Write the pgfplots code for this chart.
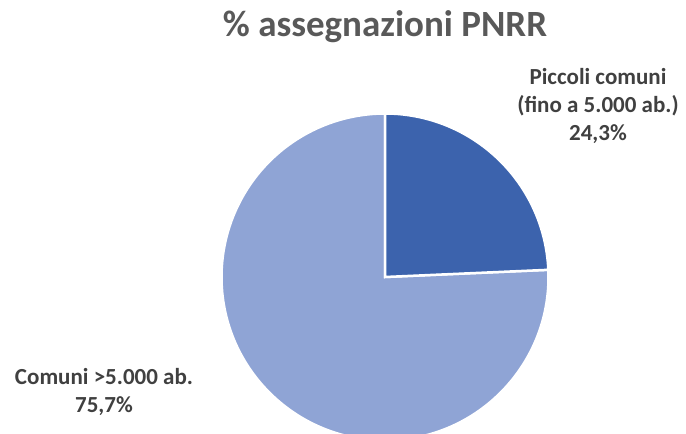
\documentclass[border=0pt]{standalone}
\usepackage{fontspec}
\setmainfont{Carlito}
\usepackage{pgfplots}
\usepackage{pgfplotstable}
\pgfplotsset{compat=1.18}
\definecolor{darkslice}{HTML}{3C63AD}
\definecolor{lightslice}{HTML}{8FA4D5}
\definecolor{titlegray}{HTML}{595959}
\definecolor{labelgray}{HTML}{404040}
\pgfplotstableread{
label value
piccoli 24.3
grandi 75.7
}\piedata
\pgfplotstablegetelem{0}{value}\of\piedata
\pgfmathsetmacro{\angA}{90-3.6*\pgfplotsretval}
\begin{document}
\begin{tikzpicture}
\begin{axis}[width=686pt,height=434pt,scale only axis,
  xmin=0,xmax=686,ymin=0,ymax=434,hide axis,clip=true]
\fill[lightslice,draw=white,line width=2.5pt] (axis cs:385,157) -- ++(\angA:163.5pt) arc[start angle=\angA, end angle=-270, radius=163.5pt] -- cycle;
\fill[darkslice,draw=white,line width=2.5pt] (axis cs:385,157) -- ++(90:163.5pt) arc[start angle=90, end angle=\angA, radius=163.5pt] -- cycle;
\node[anchor=base,text=titlegray,font=\fontsize{37}{44}\selectfont\bfseries] at (axis cs:385,397) {\% assegnazioni PNRR};
\node[anchor=base,align=center,text=labelgray,font=\fontsize{23}{28}\selectfont\bfseries] at (axis cs:598,293) {Piccoli comuni\\(fino a 5.000 ab.)\\24,3\%};
\node[anchor=base,align=center,text=labelgray,font=\fontsize{23}{28}\selectfont\bfseries] at (axis cs:104,21) {Comuni >5.000 ab.\\75,7\%};
\end{axis}
\pgfresetboundingbox
\path[use as bounding box] (current axis.south west) rectangle (current axis.north east);
\end{tikzpicture}
\end{document}
